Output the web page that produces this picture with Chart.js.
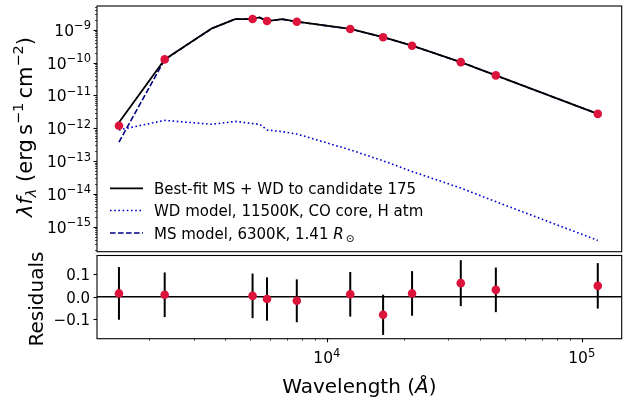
<!DOCTYPE html>
<html>
<head>
<meta charset="utf-8">
<script src="https://cdn.jsdelivr.net/npm/chart.js@4.4.1/dist/chart.umd.min.js"></script>
<style>
  html, body { margin: 0; padding: 0; background: #fff; }
  #wrap { position: relative; width: 628px; height: 398px; overflow: hidden; }
  #sed { position: absolute; left: 0; top: 0; }
  #resid { position: absolute; left: 0; top: 240px; }
</style>
</head>
<body>
<div id="wrap">
  <canvas id="sed" width="628" height="256"></canvas>
  <canvas id="resid" width="628" height="158"></canvas>
</div>
<script>
// photometric bands (Angstrom) and observed fluxes
const bandWave = [1528, 2310, 5110, 5822, 7620, 12350, 16620, 21590, 33526, 46028, 115608];
const bandFlux = [1.2e-12, 1.26e-10, 2.14e-9, 1.86e-9, 1.78e-9, 1.07e-9, 6.0e-10, 3.3e-10, 1.04e-10, 4.1e-11, 2.75e-12];

// residuals and their errors
const residual = [0.015, 0.009, 0.004, -0.010, -0.018, 0.011, -0.081, 0.015, 0.061, 0.031, 0.049];
const residualErr = [0.118, 0.100, 0.100, 0.097, 0.096, 0.100, 0.090, 0.100, 0.103, 0.100, 0.102];

// model curves
const modelWave = [1528, 2310, 3540, 4365, 5060, 5450, 5822, 6670, 7620, 12350, 16620, 21590, 33526, 46028, 115608];
const bestFit = [1.5e-12, 1.26e-10, 1.12e-9, 2.14e-9, 2.14e-9, 2.4e-9, 1.86e-9, 2.14e-9, 1.78e-9, 1.07e-9, 6.0e-10, 3.3e-10, 1.04e-10, 4.1e-11, 2.75e-12];
const wdModel = [8.9e-13, 1.74e-12, 1.32e-12, 1.62e-12, 1.41e-12, 1.32e-12, 8.9e-13, 7.9e-13, 6.7e-13, 2.2e-13, 1.02e-13, 4.8e-14, 1.5e-14, 5.8e-15, 3.8e-16];
const msModel = [3.8e-13, 1.24e-10, 1.11e-9, 2.13e-9, 2.13e-9, 2.39e-9, 1.85e-9, 2.13e-9, 1.77e-9, 1.07e-9, 6.0e-10, 3.3e-10, 1.04e-10, 4.1e-11, 2.75e-12];

// tick labels
const fluxTickExps = [-15, -14, -13, -12, -11, -10, -9];
const waveTickExps = [4, 5];
const residTicks = [-0.1, 0.0, 0.1];
const residTickLabels = ['\u22120.1', '0.0', '0.1'];

const legendLabels = ['Best-fit MS + WD to candidate 175', 'WD model, 11500K, CO core, H atm', 'MS model, 6300K, 1.41 '];

const FONT = '"DejaVu Sans", sans-serif';
const RED = '#dc143c';
const xMin = 1253, xMax = 143500;

function pts(xs, ys) {
  return xs.map((x, i) => ({ x: x, y: ys[i] }));
}

// draw a run of text pieces: [text, size, italic, dy]
function rich(ctx, runs, x, y, align) {
  let w = 0;
  runs.forEach(r => {
    ctx.font = (r[2] ? 'italic ' : '') + r[1] + 'px ' + FONT;
    r.w = ctx.measureText(r[0]).width;
    w += r.w;
  });
  let cx = align === 'center' ? x - w / 2 : (align === 'right' ? x - w : x);
  runs.forEach(r => {
    ctx.font = (r[2] ? 'italic ' : '') + r[1] + 'px ' + FONT;
    ctx.fillText(r[0], cx, y + (r[3] || 0));
    cx += r.w;
  });
}

function logTicks(min, max) {
  const out = [];
  for (let e = Math.floor(Math.log10(min)); e <= Math.ceil(Math.log10(max)); e++) {
    for (let m = 1; m <= 9; m++) {
      const v = m * Math.pow(10, e);
      if (v >= min && v <= max) out.push({ v: v, major: m === 1, e: e });
    }
  }
  return out;
}

function frame(ctx, a) {
  ctx.save();
  ctx.strokeStyle = '#000';
  ctx.lineWidth = 1.1;
  ctx.strokeRect(a.left, a.top, a.right - a.left, a.bottom - a.top);
  ctx.restore();
}

const sedDeco = {
  id: 'sedDeco',
  afterDraw(chart) {
    const ctx = chart.ctx, a = chart.chartArea, ys = chart.scales.y;
    frame(ctx, a);
    ctx.save();
    ctx.fillStyle = '#000';
    ctx.strokeStyle = '#000';
    ctx.textBaseline = 'alphabetic';
    logTicks(ys.min, ys.max).forEach(t => {
      const y = Math.round(ys.getPixelForValue(t.v)) + 0.5;
      ctx.lineWidth = t.major ? 1.1 : 0.7;
      ctx.beginPath();
      ctx.moveTo(a.left - (t.major ? 3.5 : 2), y);
      ctx.lineTo(a.left, y);
      ctx.stroke();
    });
    fluxTickExps.forEach(e => {
      const y = ys.getPixelForValue(Math.pow(10, e));
      rich(ctx, [['10', 15.5], ['\u2212' + Math.abs(e), 11.5, false, -6.5]], a.left - 6, y + 6, 'right');
    });
    // y axis title
    ctx.save();
    ctx.translate(31.5, 127);
    ctx.rotate(-Math.PI / 2);
    rich(ctx, [['\u03bb', 21, true], ['f', 21, true], ['\u03bb', 14.5, true, 4], [' (erg\u2009s', 21],
      ['\u22121', 14.5, false, -8.5], ['\u2009cm', 21], ['\u22122', 14.5, false, -8.5], [')', 21]], 0, 0, 'center');
    ctx.restore();
    // legend
    const ds = chart.data.datasets;
    const rowY = [188.3, 210.5, 233];
    [1, 2, 3].forEach((k, i) => {
      const d = ds[k];
      ctx.save();
      ctx.strokeStyle = d.borderColor;
      ctx.lineWidth = d.borderWidth;
      ctx.setLineDash(d.borderDash || []);
      ctx.beginPath();
      ctx.moveTo(110, rowY[i]);
      ctx.lineTo(143, rowY[i]);
      ctx.stroke();
      ctx.restore();
      const runs = [[legendLabels[i], 15]];
      if (i === 2) {
        runs.push(['R', 15, true]);
        runs.push(['\u2009\u2299', 10.5, false, 3]);
      }
      rich(ctx, runs, 154, rowY[i] + 5.5, 'left');
    });
    ctx.restore();
  }
};

const residDeco = {
  id: 'residDeco',
  beforeDatasetsDraw(chart) {
    const ctx = chart.ctx, a = chart.chartArea, xs = chart.scales.x, ys = chart.scales.y;
    ctx.save();
    ctx.strokeStyle = '#000';
    ctx.lineWidth = 1.5;
    const y0 = ys.getPixelForValue(0);
    ctx.beginPath();
    ctx.moveTo(a.left, y0);
    ctx.lineTo(a.right, y0);
    ctx.stroke();
    ctx.lineWidth = 2;
    bandWave.forEach((w, i) => {
      const x = xs.getPixelForValue(w);
      ctx.beginPath();
      ctx.moveTo(x, ys.getPixelForValue(residual[i] - residualErr[i]));
      ctx.lineTo(x, ys.getPixelForValue(residual[i] + residualErr[i]));
      ctx.stroke();
    });
    ctx.restore();
  },
  afterDraw(chart) {
    const ctx = chart.ctx, a = chart.chartArea, xs = chart.scales.x, ys = chart.scales.y;
    frame(ctx, a);
    ctx.save();
    ctx.fillStyle = '#000';
    ctx.strokeStyle = '#000';
    ctx.textBaseline = 'alphabetic';
    logTicks(xs.min, xs.max).forEach(t => {
      const x = Math.round(xs.getPixelForValue(t.v)) + 0.5;
      ctx.lineWidth = t.major ? 1.1 : 0.7;
      ctx.beginPath();
      ctx.moveTo(x, a.bottom);
      ctx.lineTo(x, a.bottom + (t.major ? 3.5 : 2));
      ctx.stroke();
    });
    waveTickExps.forEach(e => {
      const x = xs.getPixelForValue(Math.pow(10, e));
      rich(ctx, [['10', 15.5], [String(e), 11.5, false, -6.5]], x, a.bottom + 24.5, 'center');
    });
    residTicks.forEach((v, i) => {
      const y = Math.round(ys.getPixelForValue(v)) + 0.5;
      ctx.lineWidth = 1.1;
      ctx.beginPath();
      ctx.moveTo(a.left - 3.5, y);
      ctx.lineTo(a.left, y);
      ctx.stroke();
      rich(ctx, [[residTickLabels[i], 15]], a.left - 7, y + 5.3, 'right');
    });
    // axis titles
    rich(ctx, [['Wavelength (', 20], ['\u00c5', 20, true], [')', 20]], (a.left + a.right) / 2, 153, 'center');
    ctx.translate(43, 59);
    ctx.rotate(-Math.PI / 2);
    rich(ctx, [['Residuals', 20]], 0, 0, 'center');
    ctx.restore();
  }
};

new Chart(document.getElementById('sed'), {
  type: 'line',
  data: {
    datasets: [
      { label: 'photometry', data: pts(bandWave, bandFlux), showLine: false,
        pointRadius: 4.3, pointBackgroundColor: RED, pointBorderWidth: 0 },
      { label: legendLabels[0], data: pts(modelWave, bestFit), borderColor: '#000',
        borderWidth: 1.8, pointRadius: 0, tension: 0 },
      { label: legendLabels[1], data: pts(modelWave, wdModel), borderColor: '#0000cd',
        borderWidth: 1.6, borderDash: [1.6, 2.6], pointRadius: 0, tension: 0 },
      { label: legendLabels[2], data: pts(modelWave, msModel), borderColor: '#000080',
        borderWidth: 1.6, borderDash: [5.6, 2.4], pointRadius: 0, tension: 0 }
    ]
  },
  options: {
    responsive: false,
    animation: false,
    layout: { padding: { left: 97, top: 6, right: 6.3, bottom: 0.5 } },
    scales: {
      x: { type: 'logarithmic', min: xMin, max: xMax, display: false },
      y: { type: 'logarithmic', min: 1.72e-16, max: 5.36e-9, display: false }
    },
    plugins: { legend: { display: false }, tooltip: { enabled: false } }
  },
  plugins: [sedDeco]
});

new Chart(document.getElementById('resid'), {
  type: 'line',
  data: {
    datasets: [
      { label: 'residuals', data: pts(bandWave, residual), showLine: false,
        pointRadius: 4.3, pointBackgroundColor: RED, pointBorderWidth: 0 }
    ]
  },
  options: {
    responsive: false,
    animation: false,
    layout: { padding: { left: 97, top: 15.5, right: 6.3, bottom: 59.3 } },
    scales: {
      x: { type: 'logarithmic', min: xMin, max: xMax, display: false },
      y: { type: 'linear', min: -0.188, max: 0.185, display: false }
    },
    plugins: { legend: { display: false }, tooltip: { enabled: false } }
  },
  plugins: [residDeco]
});
</script>
</body>
</html>
